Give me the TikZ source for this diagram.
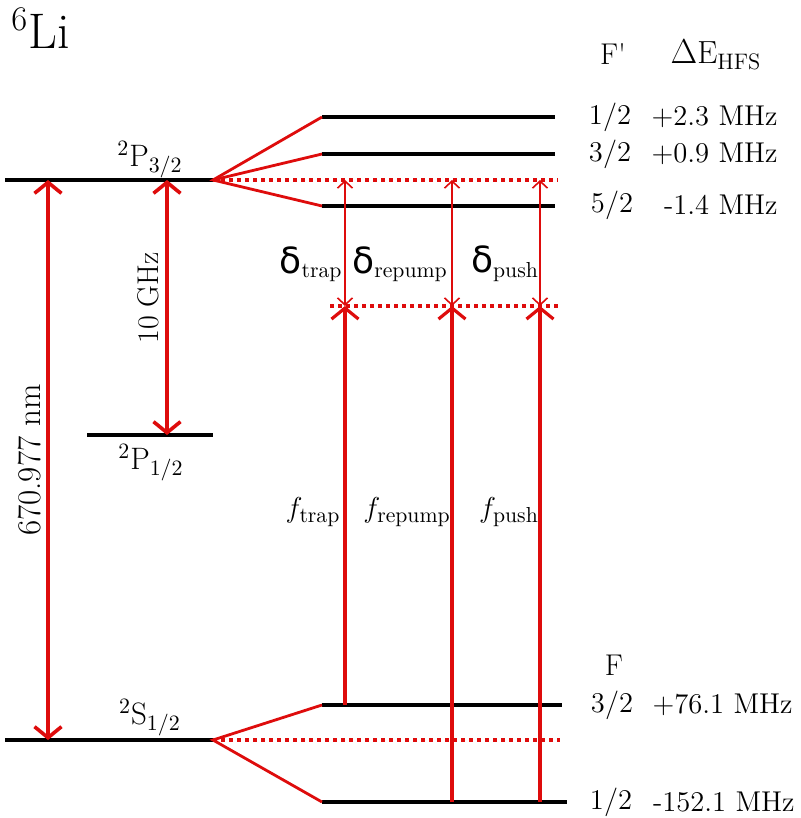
\documentclass[tikz,border=0pt]{standalone}
\usepackage{fontspec}
\usepackage{xcolor}
\usetikzlibrary{arrows.meta}
\newfontfamily\dvsans{DejaVu Sans}
\definecolor{lasred}{RGB}{222,12,12}
\tikzstyle{lvl}=[line width=1.75pt, black]
\tikzstyle{splt}=[line width=1.4pt, lasred]
\tikzstyle{dlvl}=[line width=1.9pt, lasred, dash pattern=on 2.2pt off 1.8pt]
\tikzstyle{bigarr}=[{Straight Barb[length=5.5pt,width=13.5pt]}-{Straight Barb[length=5.5pt,width=13.5pt]},
  line width=1.8pt, lasred]
\tikzstyle{laser}=[-{Straight Barb[length=5.5pt,width=13.5pt]}, line width=1.6pt, lasred]
\tikzstyle{detun}=[{Straight Barb[length=3.5pt,width=7.5pt]}-{Straight Barb[length=3.5pt,width=7.5pt]},
  line width=0.8pt, lasred]
\tikzstyle{lbl}=[font=\fontsize{15.5}{18}\selectfont, inner sep=0pt]
\tikzstyle{rlbl}=[font=\fontsize{14.3}{16}\selectfont, inner sep=0pt]
\newcommand{\dlt}[1]{{\fontsize{18}{20}\selectfont\dvsans δ}$_{\mathrm{#1}}$}

\begin{document}
\begin{tikzpicture}[x=0.5pt, y=-0.5pt]
        \useasboundingbox (0,0) rectangle (801,818);
        % fine structure
        \coordinate (p32l) at (5,180);   \coordinate (p32r) at (213,180);
        \coordinate (p12l) at (87,435);  \coordinate (p12r) at (213,435);
        \coordinate (s12l) at (5,740);   \coordinate (s12r) at (213,740);
        \draw[lvl] (p32l)--(p32r);
        \draw[lvl] (p12l)--(p12r);
        \draw[lvl] (s12l)--(s12r);
        % hyperfine levels
        \coordinate (e1l) at (322,117); \coordinate (e1r) at (555,117);
        \coordinate (e3l) at (322,154); \coordinate (e3r) at (555,154);
        \coordinate (e5l) at (322,206); \coordinate (e5r) at (555,206);
        \coordinate (g3l) at (322,705); \coordinate (g3r) at (562,705);
        \coordinate (g1l) at (322,802); \coordinate (g1r) at (567,802);
        \draw[lvl] (e1l)--(e1r);
        \draw[lvl] (e3l)--(e3r);
        \draw[lvl] (e5l)--(e5r);
        \draw[lvl] (g3l)--(g3r);
        \draw[lvl] (g1l)--(g1r);
        \draw[splt] (e1l)--(p32r)--(e5l);
        \draw[splt] (e3l)--(p32r);
        \draw[splt] (g3l)--(s12r)--(g1l);
        % virtual levels
        \coordinate (pdot) at (558,180);
        \coordinate (vl) at (330,306); \coordinate (vr) at (558,306);
        \coordinate (sdot) at (560,740);
        \draw[dlvl] (p32r)--(pdot);
        \draw[dlvl] (vl)--(vr);
        \draw[dlvl] (s12r)--(sdot);
        % transitions
        \coordinate (xd2) at (48,0);   \coordinate (xfs) at (167,0);
        \coordinate (xtrap) at (345,0); \coordinate (xrep) at (452,0);
        \coordinate (xpush) at (540,0);
        \draw[bigarr] (xd2 |- p32l)--(xd2 |- s12l);
        \draw[bigarr] (xfs |- p32l)--(xfs |- p12l);
        \draw[laser] (xtrap |- g3l)--(xtrap |- vl);
        \draw[laser] (xrep |- g1l)--(xrep |- vl);
        \draw[laser] (xpush |- g1l)--(xpush |- vl);
        \draw[detun] (xtrap |- vl)--(xtrap |- pdot);
        \draw[detun] (xrep |- vl)--(xrep |- pdot);
        \draw[detun] (xpush |- vl)--(xpush |- pdot);
        % labels
        \node[lbl, font=\fontsize{25}{27}\selectfont, anchor=base west] (li) at (11,49) {$^6$Li};
        \node[lbl] (tp32) at (150,160) {$^2$P$_{3/2}$};
        \node[lbl] (tp12) at (151,463) {$^2$P$_{1/2}$};
        \node[lbl] (ts12) at (150,718) {$^2$S$_{1/2}$};
        \node[lbl, rotate=90, font=\fontsize{15}{17}\selectfont] (tghz) at (148,298) {10 GHz};
        \node[lbl, rotate=90, font=\fontsize{16.5}{18}\selectfont] (tnm) at (30,460) {670.977 nm};
        \node[lbl] (dtrap) at (311,264) {\dlt{trap}};
        \node[lbl] (drep) at (400,264) {\dlt{repump}};
        \node[lbl] (dpush) at (505,264) {\dlt{push}};
        \node[lbl] (ftrap) at (313,512) {$f_{\mathrm{trap}}$};
        \node[lbl] (frep) at (407,512) {$f_{\mathrm{repump}}$};
        \node[lbl] (fpush) at (509,512) {$f_{\mathrm{push}}$};
        % quantum numbers and shifts
        \node[rlbl, font=\fontsize{15}{17}\selectfont] (hfp) at (613,54) {F\textquotesingle};
        \node[lbl, font=\fontsize{16}{18}\selectfont] (hde) at (716,55) {$\Delta\mathrm{E}_{\mathrm{HFS}}$};
        \node[rlbl, font=\fontsize{15}{17}\selectfont] (hf) at (614,665) {F};
        \node[rlbl] (n1) at (610,117) {1/2};
        \node[rlbl] (n3) at (610,154) {3/2};
        \node[rlbl] (n5) at (612,205) {5/2};
        \node[rlbl, anchor=east] (v1) at (778,117) {+2.3 MHz};
        \node[rlbl, anchor=east] (v3) at (778,154) {+0.9 MHz};
        \node[rlbl, anchor=east] (v5) at (778,205) {-1.4 MHz};
        \node[rlbl] (m3) at (612,705) {3/2};
        \node[rlbl] (m1) at (611,802) {1/2};
        \node[rlbl, anchor=east] (w3) at (793,705) {+76.1 MHz};
        \node[rlbl, anchor=east] (w1) at (795,802) {-152.1 MHz};
      \end{tikzpicture}
\end{document}
